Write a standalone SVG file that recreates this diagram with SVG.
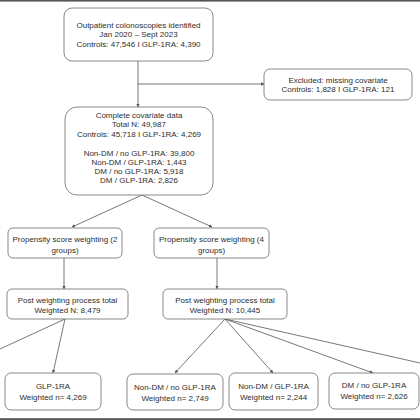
<svg xmlns="http://www.w3.org/2000/svg" width="420" height="420" viewBox="0 0 420 420">
<style>
.box{fill:#fff;stroke:#7a7a7a;stroke-width:0.9}
.t{font-family:"Liberation Sans",Arial,sans-serif;font-size:8px;fill:#2e2e2e;text-anchor:middle}
.ln{stroke:#555;stroke-width:0.8;fill:none}
</style>
<defs>
<marker id="ar" viewBox="0 0 6 6" refX="5.5" refY="3" markerWidth="3.5" markerHeight="3.5" orient="auto" markerUnits="userSpaceOnUse">
<path d="M0,0 L6,3 L0,6 z" fill="#555"/>
</marker>
</defs>
<rect x="0" y="0" width="420" height="420" fill="#fff"/>
<rect x="0" y="0" width="420" height="1.6" fill="#555"/>
<rect x="0" y="418.2" width="420" height="1.8" fill="#555"/>
<g id="connectors">
<line class="ln" x1="138" y1="61" x2="138" y2="107" marker-end="url(#ar)"/>
<line class="ln" x1="138" y1="84" x2="264" y2="84" marker-end="url(#ar)"/>
<line class="ln" x1="142" y1="195" x2="72" y2="227" marker-end="url(#ar)"/>
<line class="ln" x1="142" y1="195" x2="212" y2="227" marker-end="url(#ar)"/>
<line class="ln" x1="64" y1="258" x2="64" y2="289" marker-end="url(#ar)"/>
<line class="ln" x1="217" y1="258" x2="217" y2="289" marker-end="url(#ar)"/>
<line class="ln" x1="65" y1="319" x2="0" y2="349"/>
<line class="ln" x1="65" y1="319" x2="53" y2="373" marker-end="url(#ar)"/>
<line class="ln" x1="225" y1="319" x2="175" y2="373" marker-end="url(#ar)"/>
<line class="ln" x1="225" y1="319" x2="273" y2="373" marker-end="url(#ar)"/>
<line class="ln" x1="225" y1="319" x2="373" y2="373" marker-end="url(#ar)"/>
<line class="ln" x1="225" y1="319" x2="420" y2="363"/>
</g>
<g id="n_identified">
<rect class="box" x="64" y="8" width="149" height="53" rx="8"/>
<text class="t" x="138.5" y="27.8">Outpatient colonoscopies identified</text>
<text class="t" x="138.5" y="37.3">Jan 2020 – Sept 2023</text>
<text class="t" x="138.5" y="46.8">Controls: 47,546 I GLP-1RA: 4,390</text>
</g>
<g id="n_excluded">
<rect class="box" x="264" y="69" width="148" height="31" rx="6"/>
<text class="t" x="338" y="82.8">Excluded: missing covariate</text>
<text class="t" x="338" y="91.8">Controls: 1,828 I GLP-1RA: 121</text>
</g>
<g id="n_complete">
<rect class="box" x="65" y="107" width="148" height="88" rx="12"/>
<text class="t" x="139" y="117.8">Complete covariate data</text>
<text class="t" x="139" y="127.3">Total N: 49,987</text>
<text class="t" x="139" y="136.8">Controls: 45,718 I  GLP-1RA: 4,269</text>
<text class="t" x="139" y="155.8">Non-DM / no GLP-1RA: 39,800</text>
<text class="t" x="139" y="165.2">Non-DM / GLP-1RA: 1,443</text>
<text class="t" x="139" y="174.3">DM / no GLP-1RA: 5,918</text>
<text class="t" x="139" y="183.3">DM / GLP-1RA: 2,826</text>
</g>
<g id="n_ps2">
<rect class="box" x="8" y="228" width="114" height="30" rx="5"/>
<text class="t" x="65" y="241.8">Propensity score weighting (2</text>
<text class="t" x="65" y="253.3">groups)</text>
</g>
<g id="n_ps4">
<rect class="box" x="154" y="228" width="115" height="30" rx="5"/>
<text class="t" x="211.5" y="241.8">Propensity score weighting (4</text>
<text class="t" x="211.5" y="253.3">groups)</text>
</g>
<g id="n_post2">
<rect class="box" x="7" y="289" width="121" height="30" rx="5"/>
<text class="t" x="67.5" y="302.8">Post weighting process total</text>
<text class="t" x="67.5" y="312.8">Weighted N: 8,479</text>
</g>
<g id="n_post4">
<rect class="box" x="163" y="289" width="124" height="30" rx="5"/>
<text class="t" x="225" y="302.8">Post weighting process total</text>
<text class="t" x="225" y="312.8">Weighted N: 10,445</text>
</g>
<g id="n_glp">
<rect class="box" x="5" y="373" width="96" height="37" rx="6"/>
<text class="t" x="53" y="388.8">GLP-1RA</text>
<text class="t" x="53" y="399.8">Weighted n= 4,269</text>
</g>
<g id="n_nondm_noglp">
<rect class="box" x="127" y="374" width="96" height="36" rx="6"/>
<text class="t" x="175" y="389.8">Non-DM / no GLP-1RA</text>
<text class="t" x="175" y="400.8">Weighted n= 2,749</text>
</g>
<g id="n_nondm_glp">
<rect class="box" x="229" y="373" width="89" height="37" rx="6"/>
<text class="t" x="273.5" y="389.3">Non-DM / GLP-1RA</text>
<text class="t" x="273.5" y="400.3">Weighted n= 2,244</text>
</g>
<g id="n_dm_noglp">
<rect class="box" x="329" y="373" width="90" height="36" rx="6"/>
<text class="t" x="374" y="388.3">DM / no GLP-1RA</text>
<text class="t" x="374" y="399.3">Weighted n= 2,626</text>
</g>
</svg>
